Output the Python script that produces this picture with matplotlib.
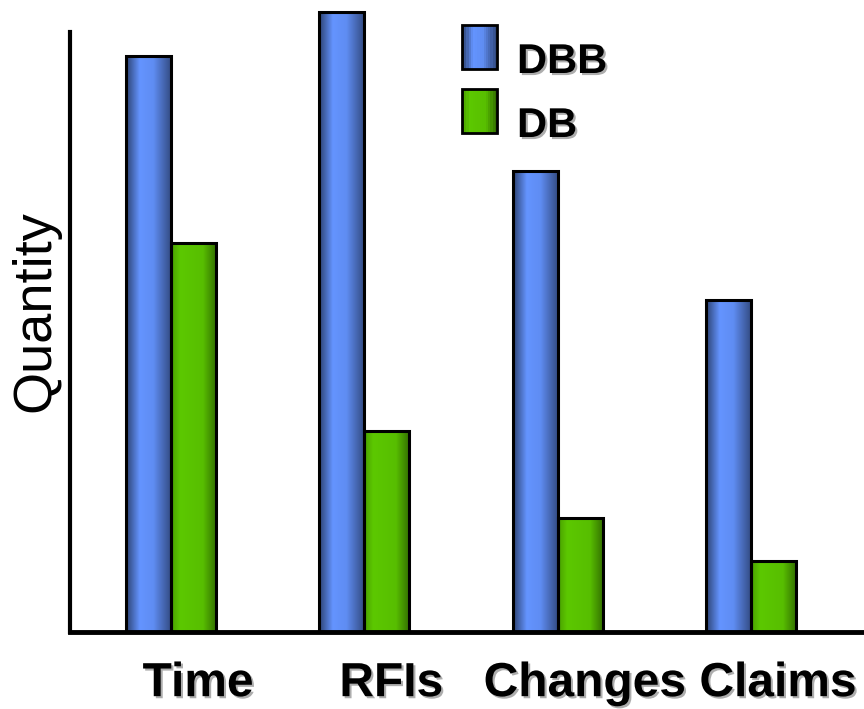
import matplotlib
matplotlib.use('Agg')
import matplotlib.pyplot as plt
import matplotlib.patheffects as pe
from matplotlib.patches import Rectangle
import numpy as np

# data (arbitrary quantity units)
categories = ['Time', 'RFIs', 'Changes', 'Claims']
dbb_vals = [92.9, 100.0, 74.4, 53.5]
db_vals = [62.7, 32.4, 18.4, 11.5]
series_names = ['DBB', 'DB']

blue = np.array([100, 148, 255]) / 255
green = np.array([92, 200, 0]) / 255

# horizontal shading profiles (cylinder look)
blue_prof = ([0.0, 0.3, 0.6, 1.0], [0.45, 1.0, 0.95, 0.5])
green_prof = ([0.0, 0.2, 0.7, 1.0], [0.8, 1.0, 0.95, 0.55])

plt.rcParams['font.family'] = ['Liberation Sans', 'DejaVu Sans']

def gradient_img(base, prof, n=64):
    t = np.linspace(0, 1, n)
    k = np.interp(t, prof[0], prof[1])
    img = np.clip(base[None, :] * k[:, None], 0, 1)
    return img[None, :, :]

txt_shadow = [pe.SimplePatchShadow(offset=(1.5, -1.5), shadow_rgbFace='0.6', alpha=0.8), pe.Normal()]

fig = plt.figure(figsize=(8.64, 7.09), dpi=100)
ax = fig.add_axes([70/864, 1 - 632/709, 1 - 70/864, 632/709])

x = np.arange(len(categories))
w = 0.233
ymax = 100 * 632 / 620

def shaded_bars(xpos, vals, base, prof):
    bars = ax.bar(xpos, vals, w, align='edge', facecolor='none', edgecolor='black',
                  linewidth=2.2, zorder=3)
    img = gradient_img(base, prof)
    for b in bars:
        x0, y0 = b.get_x(), b.get_y()
        im = ax.imshow(img, extent=(x0, x0 + b.get_width(), y0, y0 + b.get_height()),
                       aspect='auto', zorder=2, interpolation='bilinear')
        im.set_clip_path(b)
    return bars

shaded_bars(x - w, dbb_vals, blue, blue_prof)
shaded_bars(x, db_vals, green, green_prof)
ax.set_xlim(-0.5225, 3.585)
ax.set_ylim(0, ymax)

# axes styling
for s in ['top', 'right']:
    ax.spines[s].set_visible(False)
ax.spines['left'].set_linewidth(3)
ax.spines['bottom'].set_linewidth(3.5)
ax.spines['left'].set_bounds(0, 100 * 600 / 620)
ax.set_yticks([])
ax.set_xticks(x + 0.14)
ax.set_xticklabels(categories, fontsize=34.5, fontweight='bold')
for lab in ax.get_xticklabels():
    lab.set_path_effects(txt_shadow)
ax.tick_params(axis='x', length=0, pad=21)
ax.set_ylabel('Quantity', fontsize=39, labelpad=4)
ax.yaxis.set_label_coords(-0.012, (632 - 311) / 632)

# legend, drawn by hand so the gradient swatches match the bars
leg_items = [(series_names[0], blue, blue_prof, 25), (series_names[1], green, green_prof, 89)]
for name, base, prof, top in leg_items:
    n = 16
    img = gradient_img(base, prof, n)[0]
    x0, wpx, hpx = 462, 35, 44
    for i in range(n):
        fig.add_artist(Rectangle(((x0 + wpx * i / n) / 864, 1 - (top + hpx) / 709),
                                 (wpx / n + 0.4) / 864, hpx / 709, facecolor=img[i],
                                 edgecolor='none', transform=fig.transFigure))
    fig.add_artist(Rectangle((x0 / 864, 1 - (top + hpx) / 709), wpx / 864, hpx / 709,
                             facecolor='none', edgecolor='black', linewidth=2,
                             transform=fig.transFigure))
    fig.text(517 / 864, 1 - (top + 48) / 709, name, fontsize=30, fontweight='bold',
             va='baseline', ha='left', path_effects=txt_shadow)

fig.savefig('out.png', dpi=100)
